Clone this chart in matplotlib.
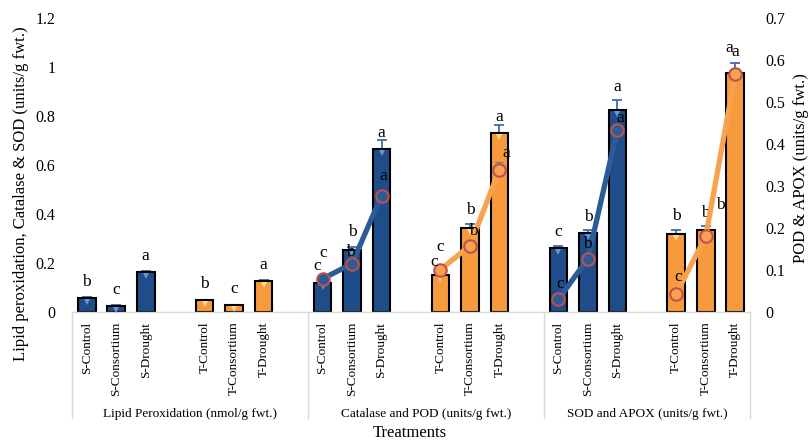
import numpy as np
import matplotlib
matplotlib.use("Agg")
import matplotlib.pyplot as plt
from matplotlib.transforms import blended_transform_factory, offset_copy

plt.rcParams['font.family'] = ['Liberation Serif', 'DejaVu Serif']

# treatments and measured groups
treatments = ["S-Control", "S-Consortium", "S-Drought",
              "T-Control", "T-Consortium", "T-Drought"]
groups = ["Lipid Peroxidation (nmol/g fwt.)",
          "Catalase and POD (units/g fwt.)",
          "SOD and APOX (units/g fwt.)"]

# bar series (left axis)
lipid = [0.057, 0.025, 0.163, 0.048, 0.027, 0.127]
lipid_err = [0.004, 0.003, 0.006, 0.003, 0.002, 0.004]
catalase = [0.118, 0.253, 0.665, 0.151, 0.343, 0.731]
catalase_err = [0.006, 0.013, 0.035, 0.005, 0.016, 0.033]
sod = [0.261, 0.322, 0.824, 0.318, 0.335, 0.975]
sod_err = [0.008, 0.012, 0.040, 0.016, 0.016, 0.040]

# line series (right axis)
pod = [0.079, 0.115, 0.277, 0.101, 0.158, 0.339]
pod_err = [0.004, 0.006, 0.010, 0.004, 0.008, 0.017]
apox = [0.030, 0.127, 0.434, 0.044, 0.180, 0.567]
apox_err = [0.003, 0.006, 0.012, 0.004, 0.008, 0.012]

# significance letters
lipid_letters = ["b", "c", "a", "b", "c", "a"]
catalase_letters = ["c", "b", "a", "c", "b", "a"]
sod_letters = ["c", "b", "a", "b", "b", "a"]
pod_letters = ["c", "b", "a", "c", "b", "a"]
apox_letters = ["c", "b", "a", "c", "b", "a"]

left_ticks = [0, 0.2, 0.4, 0.6, 0.8, 1.0, 1.2]
left_ticklabels = ["0", "0.2", "0.4", "0.6", "0.8", "1", "1.2"]
right_ticks = [0, 0.1, 0.2, 0.3, 0.4, 0.5, 0.6, 0.7]
right_ticklabels = ["0", "0.1", "0.2", "0.3", "0.4", "0.5", "0.6", "0.7"]

# label offsets in pixels (dx, dy) for each letter
lipid_off = [(0, 16)] * 6
catalase_off = [(1, 30), (0, 18), (0, 16), (0, 28), (0, 18), (0, 16)]
sod_off = [(0, 16), (0, 16), (0, 23), (0, 18), (0, 17), (-6, 25)]
pod_off = [(-5, 13), (-2, 12), (2, 20), (-6, 8), (3, 15), (7, 17)]
apox_off = [(2, 15), (-1, 15), (3, 12), (2, 17), (15, 31), (0, 22)]

BLUE = "#1f4d89"
BLUE_HI = "#6a95d0"
ORANGE = "#f79a3e"
ORANGE_HI = "#ffd98a"
LINE_BLUE = "#2b5b98"
LINE_ORANGE = "#f7a24f"
RING = "#c0504d"
ERR = "#3f6ca8"

slots = [0, 1, 2, 4, 5, 6]

fig = plt.figure(figsize=(8.08, 4.41), dpi=100)
ax = fig.add_axes([72 / 808, 1 - 312 / 441, 678 / 808, 294 / 441])
ax2 = ax.twinx()


def draw_bars(g, vals, errs, letters, offs):
    xs = [8 * g + s for s in slots]
    cols = [BLUE] * 3 + [ORANGE] * 3
    his = [BLUE_HI] * 3 + [ORANGE_HI] * 3
    ax.errorbar(xs, vals, yerr=[[0] * 6, errs], fmt="none", ecolor=ERR,
                elinewidth=1.3, capsize=3.5, capthick=1.3, zorder=1)
    ax.bar(xs, vals, width=0.6, color=cols, edgecolor="black",
           linewidth=1.5, zorder=2)
    # small bevel highlight at the top of each bar
    tr = offset_copy(ax.transData, fig=fig, x=0, y=-4, units="dots")
    for x, v, h in zip(xs, vals, his):
        ax.plot(x, v, marker="v", ms=5, color=h, mew=0, transform=tr, zorder=3)
    for x, v, t, (dx, dy) in zip(xs, vals, letters, offs):
        ax.annotate(t, (x, v), xytext=(dx, dy), textcoords="offset pixels",
                    ha="center", va="center", fontsize=12.5, zorder=4)


def draw_lines(g, vals, errs, letters, offs):
    xs = [8 * g + s for s in slots]
    for part, col in ((slice(0, 3), LINE_BLUE), (slice(3, 6), LINE_ORANGE)):
        px, pv, pe = xs[part], vals[part], errs[part]
        ax2.errorbar(px, pv, yerr=[[0] * 3, pe], fmt="none", ecolor="#7f7f7f",
                     elinewidth=1, capsize=3, zorder=4)
        ax2.plot(px, pv, color=col, lw=3.8, zorder=5, solid_capstyle="round")
        ax2.plot(px, pv, "o", ms=9, mfc=col, mec=RING, mew=1.5, zorder=6)
    for x, v, t, (dx, dy) in zip(xs, vals, letters, offs):
        ax2.annotate(t, (x, v), xytext=(dx, dy), textcoords="offset pixels",
                     ha="center", va="center", fontsize=12.5, zorder=7)


draw_bars(0, lipid, lipid_err, lipid_letters, lipid_off)
draw_bars(1, catalase, catalase_err, catalase_letters, catalase_off)
draw_bars(2, sod, sod_err, sod_letters, sod_off)
draw_lines(1, pod, pod_err, pod_letters, pod_off)
draw_lines(2, apox, apox_err, apox_letters, apox_off)

ax.set_xlim(-0.5, 22.5)
ax.set_ylim(0, 1.2)
ax2.set_ylim(0, 0.7)

xs_all = [8 * g + s for g in range(3) for s in slots]
ax.set_xticks(xs_all)
ax.set_xticklabels(treatments * 3, rotation=90, fontsize=9.5, va="top")
ax.tick_params(axis="x", length=0, pad=7)
ax.set_yticks(left_ticks)
ax.set_yticklabels(left_ticklabels, fontsize=11.5)
ax.tick_params(axis="y", length=0, pad=12)
ax2.set_yticks(right_ticks)
ax2.set_yticklabels(right_ticklabels, fontsize=11.5)
ax2.tick_params(axis="y", length=0, pad=11)

for a in (ax, ax2):
    for sp in a.spines.values():
        sp.set_visible(False)
ax.spines["bottom"].set_visible(True)
ax.spines["bottom"].set_color("#d9d9d9")
ax.spines["bottom"].set_linewidth(1)

# group boxes under the category labels
trans = blended_transform_factory(ax.transData, ax.transAxes)
for xb in [-0.5, 7.5, 15.5, 22.5]:
    ax.plot([xb, xb], [0, -106 / 294], transform=trans, clip_on=False,
            color="#d9d9d9", lw=1)
for g, name in enumerate(groups):
    lo, hi = 8 * g - 0.5, min(8 * g + 7.5, 22.5)
    ax.text((lo + hi) / 2, -102 / 294, name, transform=trans,
            ha="center", va="center", fontsize=9.5)

fig.text(410 / 808, 1 - 433 / 441, "Treatments", ha="center", va="center",
         fontsize=12)
fig.text(21 / 808, 1 - 194 / 441,
         "Lipid peroxidation, Catalase & SOD (units/g fwt.)",
         rotation=90, ha="center", va="center", fontsize=12)
fig.text(801 / 808, 1 - 168 / 441, "POD & APOX (units/g fwt.)",
         rotation=90, ha="center", va="center", fontsize=12)

fig.savefig("out.png", dpi=100)
